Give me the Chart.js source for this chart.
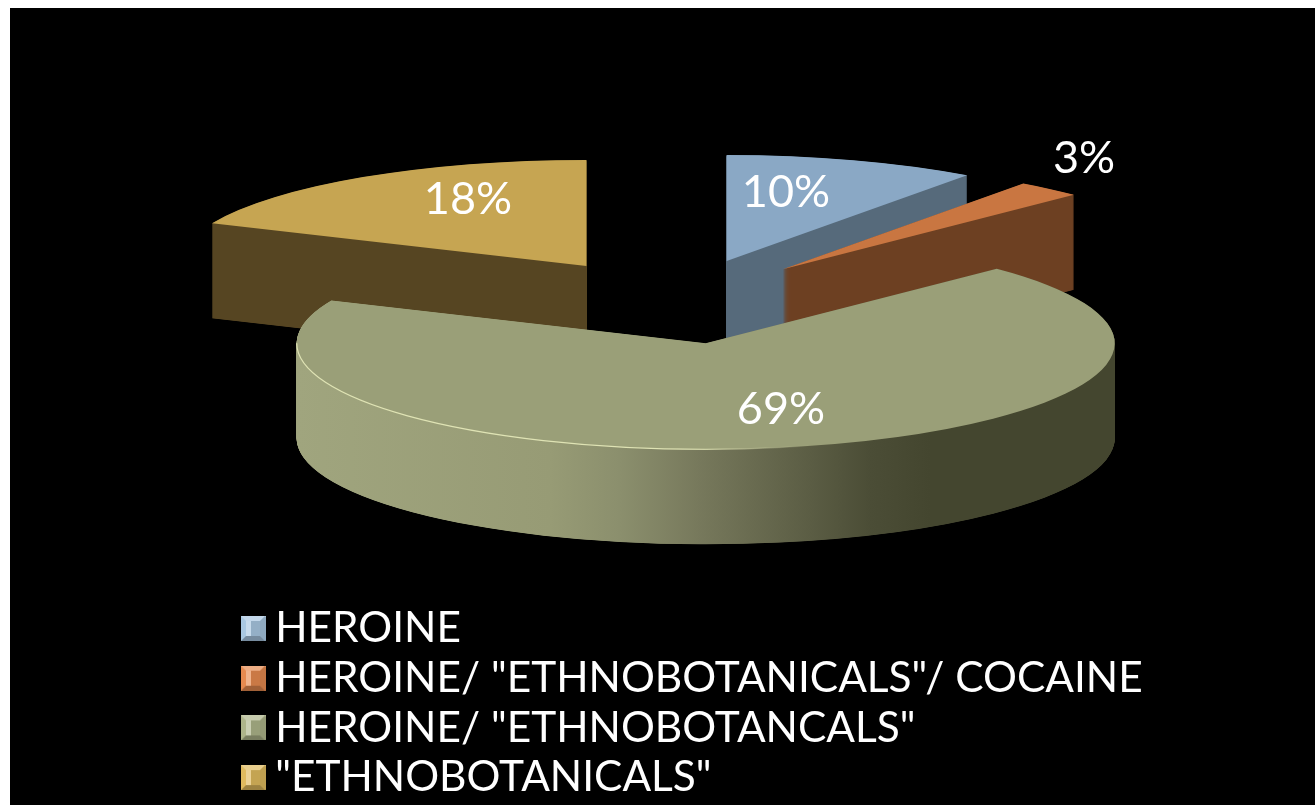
<!DOCTYPE html>
<html>
<head>
<meta charset="utf-8">
<title>Drug use</title>
<script src="https://cdn.jsdelivr.net/npm/chart.js@4"></script>
<style>
  html, body { margin: 0; padding: 0; background: #fff; overflow: hidden; }
  #wrap { position: absolute; left: 10px; top: 8px; width: 1305px; height: 797px; background: #000; }
</style>
</head>
<body>
<div id="wrap"><canvas id="pie"></canvas></div>
<script>
// data
const categories = ['HEROINE', 'HEROINE/ "ETHNOBOTANICALS"/ COCAINE', 'HEROINE/ "ETHNOBOTANCALS"', '"ETHNOBOTANICALS"'];
const values = [10, 2.6, 69, 18.4];

// colours
const topColors = ['#8aa8c5', '#c97641', '#9a9f78', '#c6a552'];
const sideColors = ['#566a7b', '#6d4022', null, '#564522'];
const swatchColors = ['#a9c8e2', '#e68a4f', '#aeb58a', '#e0bb5e'];

// 3d look
const RADIUS = 409, SQUASH = 106 / 409, DEPTH = 95, EXPLODE = 164;
const CENTER = { x: 666, y: 293.5 };   // canvas px, before explode
const drawOrder = [3, 0, 1, 2];        // back to front
const labelSpots = [[776, 184], [1074, 150], [771, 401], [458, 191]];
const FONT = 'Lato, "Open Sans", sans-serif';
const LEGEND_PAD = 7.3, LEGEND_SIZE = 42.4, LEGEND_TOP = 592;

// bevelled legend box
function makeSwatch(color) {
  const c = document.createElement('canvas');
  c.width = 24; c.height = 25;
  const x = c.getContext('2d');
  x.fillStyle = color;
  x.fillRect(0, 0, 24, 25);
  x.fillStyle = 'rgba(255,255,255,.35)';
  x.fillRect(5, 5, 5, 15);
  x.fillStyle = 'rgba(0,0,0,.12)';
  x.fillRect(10, 5, 9, 15);
  x.fillStyle = 'rgba(255,255,255,.3)';
  x.beginPath(); x.moveTo(0, 0); x.lineTo(24, 0); x.lineTo(19, 5); x.lineTo(5, 5); x.fill();
  x.fillStyle = 'rgba(0,0,0,.3)';
  x.beginPath(); x.moveTo(0, 25); x.lineTo(24, 25); x.lineTo(19, 20); x.lineTo(5, 20); x.fill();
  x.fillStyle = 'rgba(0,0,0,.15)';
  x.beginPath(); x.moveTo(24, 0); x.lineTo(24, 25); x.lineTo(19, 20); x.lineTo(19, 5); x.fill();
  return c;
}
const swatches = swatchColors.map(makeSwatch);

function greenSide(ctx) {
  const g = ctx.createLinearGradient(286, 0, 1106, 0);
  g.addColorStop(0, '#a0a57e');
  g.addColorStop(0.31, '#979b75');
  g.addColorStop(0.395, '#8b8f6d');
  g.addColorStop(0.49, '#77795c');
  g.addColorStop(0.627, '#5b5d44');
  g.addColorStop(0.70, '#4b4d36');
  g.addColorStop(0.773, '#44462f');
  g.addColorStop(1, '#44462f');
  return g;
}

const pie3d = {
  id: 'pie3d',
  afterLayout(chart) {
    chart.legend.left = 243 - LEGEND_PAD;
    chart.legend.top = LEGEND_TOP;
    chart.legend.bottom = LEGEND_TOP + 300;  // else the last row wraps into a second column
  },
  beforeDatasetsDraw(chart) {
    const ctx = chart.ctx;
    const arcs = chart.getDatasetMeta(0).data;
    // walls get stacked on a spare canvas and coloured in one go, no seams that way
    const spare = document.createElement('canvas');
    spare.width = chart.width; spare.height = chart.height;
    const sctx = spare.getContext('2d');

    drawOrder.forEach(i => {
      const arc = arcs[i];
      const mid = (arc.startAngle + arc.endAngle) / 2;
      const ox = Math.cos(mid) * EXPLODE, oy = Math.sin(mid) * EXPLODE;
      const place = (c, dy) => {
        c.save();
        c.translate(CENTER.x, CENTER.y + dy);
        c.scale(1, SQUASH);
        c.translate(ox - arc.x, oy - arc.y);
        arc.draw(c);
        c.restore();
      };

      sctx.globalCompositeOperation = 'source-over';
      sctx.clearRect(0, 0, spare.width, spare.height);
      for (let dy = DEPTH; dy > 0; dy -= 0.25) place(sctx, dy);  // fine steps so the thin wedge tips fill in
      sctx.globalCompositeOperation = 'source-in';
      sctx.fillStyle = sideColors[i] || greenSide(sctx);
      sctx.fillRect(0, 0, spare.width, spare.height);
      ctx.drawImage(spare, 0, 0);

      // top face
      place(ctx, 0);

      if (i === 2) {
        // light rim on the front left of the big slice
        const g = ctx.createLinearGradient(286, 0, 800, 0);
        g.addColorStop(0, '#dfe3b4');
        g.addColorStop(0.75, '#dfe3b4');
        g.addColorStop(1, 'rgba(223,227,180,0)');
        ctx.save();
        ctx.strokeStyle = g;
        ctx.lineWidth = 1.2;
        ctx.beginPath();
        ctx.ellipse(CENTER.x + ox, CENTER.y + oy * SQUASH, RADIUS, RADIUS * SQUASH, 0, Math.PI * 0.38, Math.PI * 1.0);
        ctx.stroke();
        ctx.restore();
      }
    });

    // percent labels
    ctx.save();
    ctx.fillStyle = '#fff';
    ctx.font = '45px ' + FONT;
    ctx.textAlign = 'center';
    ctx.textBaseline = 'middle';
    values.forEach((v, i) => ctx.fillText(Math.round(v) + '%', labelSpots[i][0], labelSpots[i][1]));
    ctx.restore();
    return false;
  },
  afterDraw(chart) {
    // the legend clips its box to its own left edge, so put the full swatches back on top
    const step = LEGEND_SIZE + LEGEND_PAD;
    swatches.forEach((s, i) => {
      chart.ctx.drawImage(s, 231, LEGEND_TOP + LEGEND_PAD + LEGEND_SIZE / 2 - 12.5 + i * step);
    });
  }
};

new Chart(document.getElementById('pie'), {
  type: 'pie',
  data: {
    labels: categories,
    datasets: [{ data: values, backgroundColor: topColors, borderWidth: 0 }]
  },
  options: {
    responsive: true,
    maintainAspectRatio: false,
    animation: false,
    radius: RADIUS,
    layout: { padding: 0 },
    plugins: {
      tooltip: { enabled: false },
      legend: {
        position: 'chartArea',
        align: 'start',
        labels: {
          color: '#fff',
          font: { family: FONT, size: LEGEND_SIZE },
          usePointStyle: true,
          boxWidth: 1,
          boxHeight: 24,
          padding: LEGEND_PAD,
          generateLabels: () => categories.map((text, i) => ({
            text,
            fontColor: '#fff',
            fillStyle: topColors[i],
            strokeStyle: topColors[i],
            lineWidth: 0,
            pointStyle: swatches[i],
            index: i
          }))
        }
      }
    }
  },
  plugins: [pie3d]
});
</script>
</body>
</html>
